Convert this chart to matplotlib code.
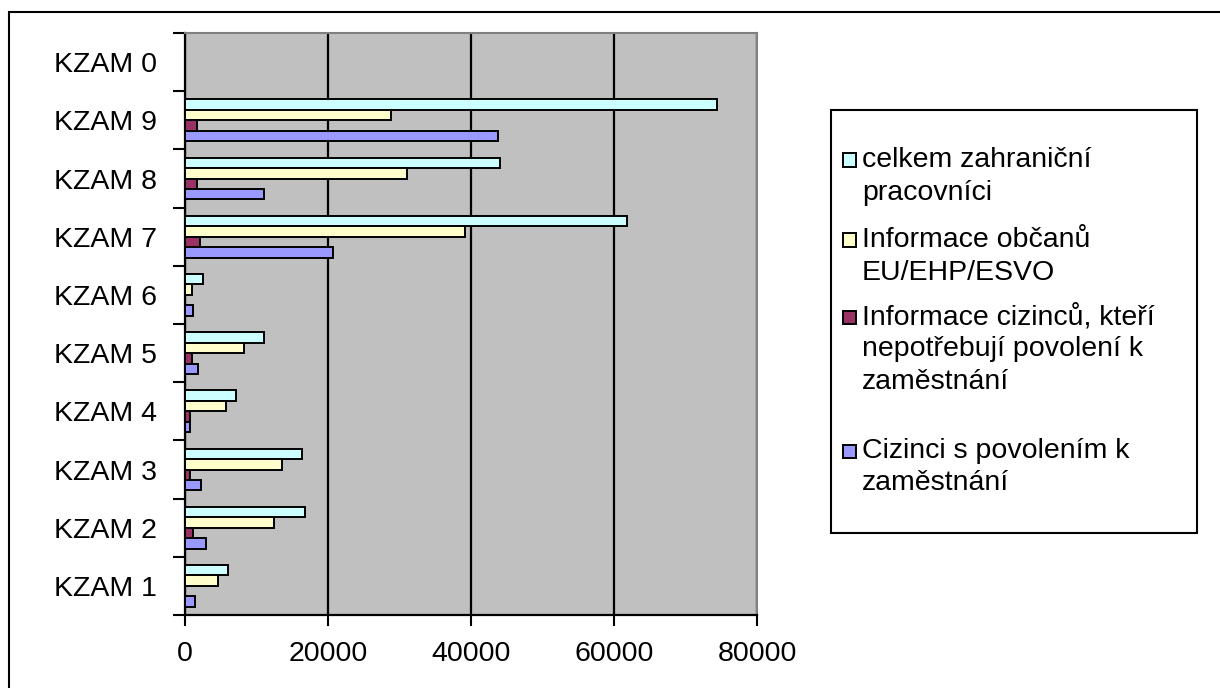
import matplotlib
matplotlib.use("Agg")
import matplotlib.pyplot as plt
from matplotlib.patches import Rectangle
import numpy as np

plt.rcParams['font.family'] = ['Liberation Sans', 'DejaVu Sans']

categories = ['KZAM 1', 'KZAM 2', 'KZAM 3', 'KZAM 4', 'KZAM 5',
              'KZAM 6', 'KZAM 7', 'KZAM 8', 'KZAM 9', 'KZAM 0']
celkem = [6060, 16730, 16400, 7080, 10990, 2520, 61870, 44070, 74370, 0]
obcane_eu = [4610, 12440, 13510, 5680, 8200, 1020, 39140, 30990, 28790, 0]
nepotrebuji = [0, 1070, 700, 640, 965, 0, 2090, 1720, 1720, 0]
s_povolenim = [1450, 2900, 2200, 700, 1770, 1070, 20700, 11050, 43800, 0]

series_labels = ['celkem zahraniční\npracovníci',
                 'Informace občanů\nEU/EHP/ESVO',
                 'Informace cizinců, kteří\nnepotřebují povolení k\nzaměstnání',
                 'Cizinci s povolením k\nzaměstnání']
series_values = [celkem, obcane_eu, nepotrebuji, s_povolenim]
series_colors = ['#CCFFFF', '#FFFFCC', '#993366', '#9999FF']
x_ticks = [0, 20000, 40000, 60000, 80000]

FS = 20.5
W, H = 1220, 688
fig = plt.figure(figsize=(W / 100, H / 100), dpi=100)

# outer border (only left and top visible in the crop)
fig.patches.append(Rectangle((9 / W, -0.1), 1.2, (H - 12) / H + 0.1,
                             transform=fig.transFigure, fill=False,
                             edgecolor='black', linewidth=1.5, zorder=0))

ax = fig.add_axes([185 / W, (H - 615) / H, 572 / W, 582 / H])
ax.set_facecolor('#C0C0C0')

y = np.arange(len(categories))
bh = 0.18
offsets = [1.5 * bh, 0.5 * bh, -0.5 * bh, -1.5 * bh]
for vals, col, off in zip(series_values, series_colors, offsets):
    ax.barh(y + off, vals, height=bh, color=col, edgecolor='black',
            linewidth=1.4, zorder=3)

ax.set_xlim(0, 80000)
ax.set_ylim(-0.5, len(categories) - 0.5)
ax.set_xticks(x_ticks)
ax.set_xticklabels([str(t) for t in x_ticks], fontsize=FS)
ax.set_yticks(y)
ax.set_yticklabels(categories, fontsize=FS)
ax.set_yticks(np.arange(-0.5, len(categories), 1), minor=True)
ax.tick_params(axis='y', which='major', length=0, pad=20)
ax.tick_params(axis='y', which='minor', length=9, width=1.5, direction='out')
ax.tick_params(axis='x', which='major', length=8, width=1.5, direction='out', pad=11)

ax.grid(axis='x', color='black', linewidth=1.6, zorder=1)
ax.set_axisbelow(True)
for s in ['left', 'bottom']:
    ax.spines[s].set_color('black')
    ax.spines[s].set_linewidth(1.6)
for s in ['top', 'right']:
    ax.spines[s].set_color('#808080')
    ax.spines[s].set_linewidth(1.5)

# legend drawn manually (markers aligned to first text line)
fig.patches.append(Rectangle((831 / W, (H - 533) / H), (1197 - 831) / W, (533 - 110) / H,
                             transform=fig.transFigure, facecolor='white',
                             edgecolor='black', linewidth=1.5, zorder=1))
first_line_y = [160, 240, 317, 451]
line_step = 32.5
for lab, col, yy in zip(series_labels, series_colors, first_line_y):
    fig.patches.append(Rectangle((843 / W, (H - yy - 6.5) / H), 13 / W, 13 / H,
                                 transform=fig.transFigure, facecolor=col,
                                 edgecolor='black', linewidth=1.4, zorder=2))
    for k, line in enumerate(lab.split('\n')):
        fig.text(862 / W, (H - yy - k * line_step) / H, line, fontsize=FS,
                 ha='left', va='center', zorder=3)

fig.savefig('out.png', dpi=100)
